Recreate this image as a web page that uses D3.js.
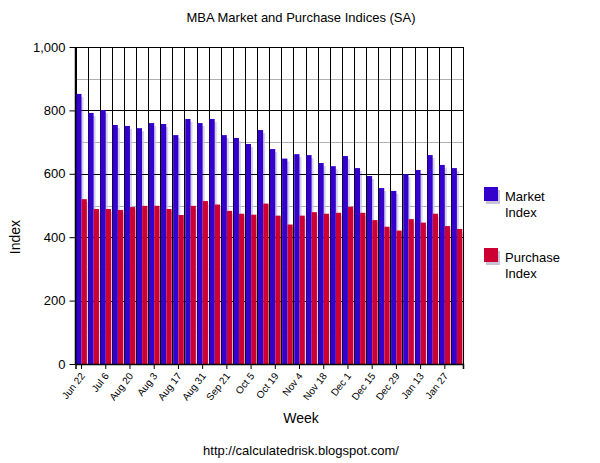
<!DOCTYPE html>
<html><head><meta charset="utf-8">
<script src="https://cdn.jsdelivr.net/npm/d3@7"></script>
<style>body{margin:0;background:#fff;} text{font-family:"Liberation Sans",Arial,sans-serif;}</style>
</head><body><svg id="c" width="600" height="463"></svg>
<script>
const tickLabels = ["Jun 22","Jul 6","Aug 20","Aug 3","Aug 17","Aug 31","Sep 21","Oct 5","Oct 19","Nov 4","Nov 18","Dec 1","Dec 15","Dec 29","Jan 13","Jan 27"];
const weeks = d3.range(32);
const marketIndex = [852,792,801,754,751,744,760,757,722,773,760,773,722,713,694,738,678,648,662,659,634,624,656,618,593,555,546,599,612,659,628,618];
const purchaseIndex = [520,489,489,486,495,499,499,489,470,499,514,503,483,474,471,506,468,440,468,479,474,477,496,477,454,433,421,457,446,474,435,426];
const yTicks = [0,200,400,600,800,1000];
const yMinor = [100,300,500,700,900];

const svg = d3.select("#c");
const m = {l:75.5, r:463, t:47, b:364};
const x = d3.scaleBand().domain(weeks).range([m.l, m.r]).paddingInner(0).paddingOuter(0);
const y = d3.scaleLinear().domain([0,1000]).range([m.b, m.t]);
const sub = d3.scaleBand().domain(["m","p"]).range([0, x.bandwidth()]).paddingInner(0.02).paddingOuter(0.14);

svg.append("text").attr("x",301).attr("y",22).attr("text-anchor","middle").attr("font-size",13).text("MBA Market and Purchase Indices (SA)");
svg.append("text").attr("transform","translate(20,237) rotate(-90)").attr("text-anchor","middle").attr("font-size",14).text("Index");
svg.append("text").attr("x",301).attr("y",423).attr("text-anchor","middle").attr("font-size",14).text("Week");
svg.append("text").attr("x",301).attr("y",455).attr("text-anchor","middle").attr("font-size",13).text("http://calculatedrisk.blogspot.com/");

svg.append("g").selectAll("line").data(yMinor).join("line")
  .attr("x1",m.l).attr("x2",m.r).attr("y1",d=>Math.round(y(d))+0.5).attr("y2",d=>Math.round(y(d))+0.5)
  .attr("stroke","#b0b0b0").attr("stroke-width",1);

const g = svg.append("g");
const groups = g.selectAll("g").data(weeks).join("g").attr("transform",d=>`translate(${x(d)},0)`);
groups.append("rect").attr("x",sub("m")+2).attr("width",sub.bandwidth()).attr("y",(d)=>y(marketIndex[d])+3).attr("height",d=>m.b-y(marketIndex[d])-3).attr("fill","#c8c4e8").attr("opacity",0.8);
groups.append("rect").attr("x",sub("p")+2).attr("width",sub.bandwidth()).attr("y",(d)=>y(purchaseIndex[d])+3).attr("height",d=>m.b-y(purchaseIndex[d])-3).attr("fill","#e8c4cc").attr("opacity",0.8);

svg.append("g").selectAll("line").data(yTicks.filter(d=>d>0)).join("line")
  .attr("x1",m.l).attr("x2",m.r).attr("y1",d=>Math.round(y(d))+0.5).attr("y2",d=>Math.round(y(d))+0.5)
  .attr("stroke","#000").attr("stroke-width",1);
svg.append("g").selectAll("line").data(d3.range(33)).join("line")
  .attr("x1",d=>Math.round(m.l + d*x.step())+0.5).attr("x2",d=>Math.round(m.l + d*x.step())+0.5)
  .attr("y1",m.t).attr("y2",m.b).attr("stroke","#000").attr("stroke-width",1);

const g2 = svg.append("g");
const groups2 = g2.selectAll("g").data(weeks).join("g").attr("transform",d=>`translate(${x(d)},0)`);
groups2.append("rect").attr("x",sub("m")).attr("width",sub.bandwidth()).attr("y",d=>y(marketIndex[d])).attr("height",d=>m.b-y(marketIndex[d])).attr("fill","#3300cc");
groups2.append("rect").attr("x",sub("p")).attr("width",sub.bandwidth()).attr("y",d=>y(purchaseIndex[d])).attr("height",d=>m.b-y(purchaseIndex[d])).attr("fill","#cc0033");

const ya = d3.axisLeft(y).tickValues(yTicks).tickSize(6).tickPadding(4).tickFormat(d3.format(","));
const yg = svg.append("g").attr("transform",`translate(${m.l},0)`).call(ya);
yg.select(".domain").remove();
yg.selectAll("text").attr("font-size",13).attr("font-family","Liberation Sans, Arial, sans-serif").attr("fill","#000");
yg.selectAll("line").attr("stroke","#000");
svg.append("line").attr("x1",m.l).attr("x2",m.l).attr("y1",m.t).attr("y2",m.b).attr("stroke","#000").attr("stroke-width",1.5);

const xa = d3.axisBottom(x).tickValues(weeks.filter(d=>d%2===0)).tickSize(5).tickFormat(d=>tickLabels[d/2]);
const xg = svg.append("g").attr("transform",`translate(0,${m.b})`).call(xa);
xg.select(".domain").attr("stroke","#000").attr("stroke-width",1.5);
xg.selectAll("line").attr("stroke","#000");
xg.selectAll("text").attr("font-size",10).attr("fill","#000").attr("font-family","Liberation Sans, Arial, sans-serif")
  .attr("text-anchor","end").attr("x",0).attr("y",0).attr("dy","0.35em").attr("transform","translate(1,10) rotate(-52)");

const legend = [{c:"#3300cc",t:["Market","Index"],y:187},{c:"#cc0033",t:["Purchase","Index"],y:248}];
const lg = svg.append("g").selectAll("g").data(legend).join("g");
lg.append("rect").attr("x",486).attr("y",d=>d.y+3).attr("width",14).attr("height",14).attr("fill","#c8c4d8");
lg.append("rect").attr("x",484).attr("y",d=>d.y).attr("width",14).attr("height",14).attr("fill",d=>d.c);
lg.append("text").attr("x",505).attr("y",d=>d.y+14).attr("font-size",13).text(d=>d.t[0]);
lg.append("text").attr("x",505).attr("y",d=>d.y+30).attr("font-size",13).text(d=>d.t[1]);
</script></body></html>
